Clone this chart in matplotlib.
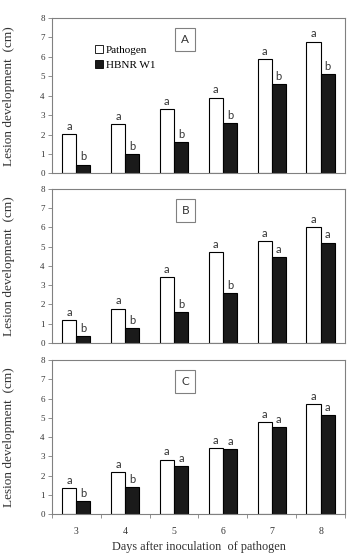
import matplotlib
matplotlib.use("Agg")
import matplotlib.pyplot as plt
from matplotlib.patches import Patch
import numpy as np

days = ["3", "4", "5", "6", "7", "8"]
panels = ["A", "B", "C"]
pathogen = {
    "A": [2.02, 2.52, 3.29, 3.90, 5.86, 6.78],
    "B": [1.19, 1.79, 3.40, 4.74, 5.29, 6.02],
    "C": [1.36, 2.16, 2.83, 3.45, 4.80, 5.70],
}
hbnr = {
    "A": [0.46, 0.98, 1.63, 2.59, 4.59, 5.09],
    "B": [0.38, 0.79, 1.62, 2.60, 4.47, 5.21],
    "C": [0.67, 1.40, 2.50, 3.39, 4.54, 5.16],
}
letters_path = {
    "A": ["a"] * 6,
    "B": ["a"] * 6,
    "C": ["a"] * 6,
}
letters_hbnr = {
    "A": ["b", "b", "b", "b", "b", "b"],
    "B": ["b", "b", "b", "b", "a", "a"],
    "C": ["b", "b", "a", "a", "a", "a"],
}
legend_labels = ["Pathogen", "HBNR W1"]
ylabel = "Lesion development  (cm)"
xlabel = "Days after inoculation  of pathogen"

SERIF = "Liberation Serif"
SANS = "Lato"
GRAY = "#808080"
TXT = "#333333"

fig = plt.figure(figsize=(3.5, 5.56), dpi=100)
positions = {
    "A": [0.148, 0.688, 0.838, 0.280],
    "B": [0.148, 0.383, 0.838, 0.2775],
    "C": [0.148, 0.0755, 0.838, 0.277],
}
x = np.arange(len(days))
w = 0.29

for p in panels:
    ax = fig.add_axes(positions[p])
    ax.bar(x - w / 2, pathogen[p], width=w, color="white", edgecolor="black", linewidth=0.8)
    ax.bar(x + w / 2, hbnr[p], width=w, color="#1a1a1a", edgecolor="black", linewidth=0.8)
    for i in range(len(days)):
        ax.annotate(letters_path[p][i], (x[i] - w / 2, pathogen[p][i]), xytext=(0, 1.5),
                    textcoords="offset points", ha="center", va="bottom",
                    fontsize=8, family=SANS, color=TXT)
        ax.annotate(letters_hbnr[p][i], (x[i] + w / 2, hbnr[p][i]), xytext=(0, 1.5),
                    textcoords="offset points", ha="center", va="bottom",
                    fontsize=8, family=SANS, color=TXT)
    ax.set_xlim(-0.5, len(days) - 0.5)
    ax.set_ylim(0, 8)
    ax.set_yticks(range(0, 9))
    ax.tick_params(axis="y", length=3, width=0.6, color=GRAY, labelsize=6.5, pad=2,
                   labelcolor=TXT)
    for lab in ax.get_yticklabels():
        lab.set_family(SERIF)
    for s in ax.spines.values():
        s.set_color(GRAY)
        s.set_linewidth(0.8)
    ax.set_ylabel(ylabel, family=SERIF, fontsize=9.5, color=TXT)
    ax.yaxis.set_label_coords(-0.125, 0.5)
    ax.text(0.455, 0.86, p, transform=ax.transAxes, ha="center", va="center",
            fontsize=8.5, family=SANS, color=TXT,
            bbox=dict(boxstyle="square,pad=0.5", facecolor="white", edgecolor=GRAY, linewidth=0.8))
    if p == "C":
        ax.set_xticks(x)
        ax.set_xticklabels(days, family=SERIF, fontsize=7, color=TXT)
        ax.tick_params(axis="x", which="major", length=0, pad=9)
        ax.set_xticks(np.arange(-0.5, len(days)), minor=True)
        ax.tick_params(axis="x", which="minor", length=3, width=0.6, color=GRAY)
        ax.set_xlabel(xlabel, family=SERIF, fontsize=8.8, labelpad=4, color=TXT)
    else:
        ax.set_xticks([])
    if p == "A":
        handles = [Patch(facecolor="white", edgecolor="black", linewidth=0.6),
                   Patch(facecolor="#1a1a1a", edgecolor="black", linewidth=0.6)]
        ax.legend(handles, legend_labels, loc="upper left", bbox_to_anchor=(0.13, 0.86),
                  frameon=False, borderpad=0, handlelength=0.7, handleheight=0.7,
                  handletextpad=0.25, labelspacing=0.45,
                  prop={"family": SERIF, "size": 8})

fig.savefig("out.png", dpi=100)
